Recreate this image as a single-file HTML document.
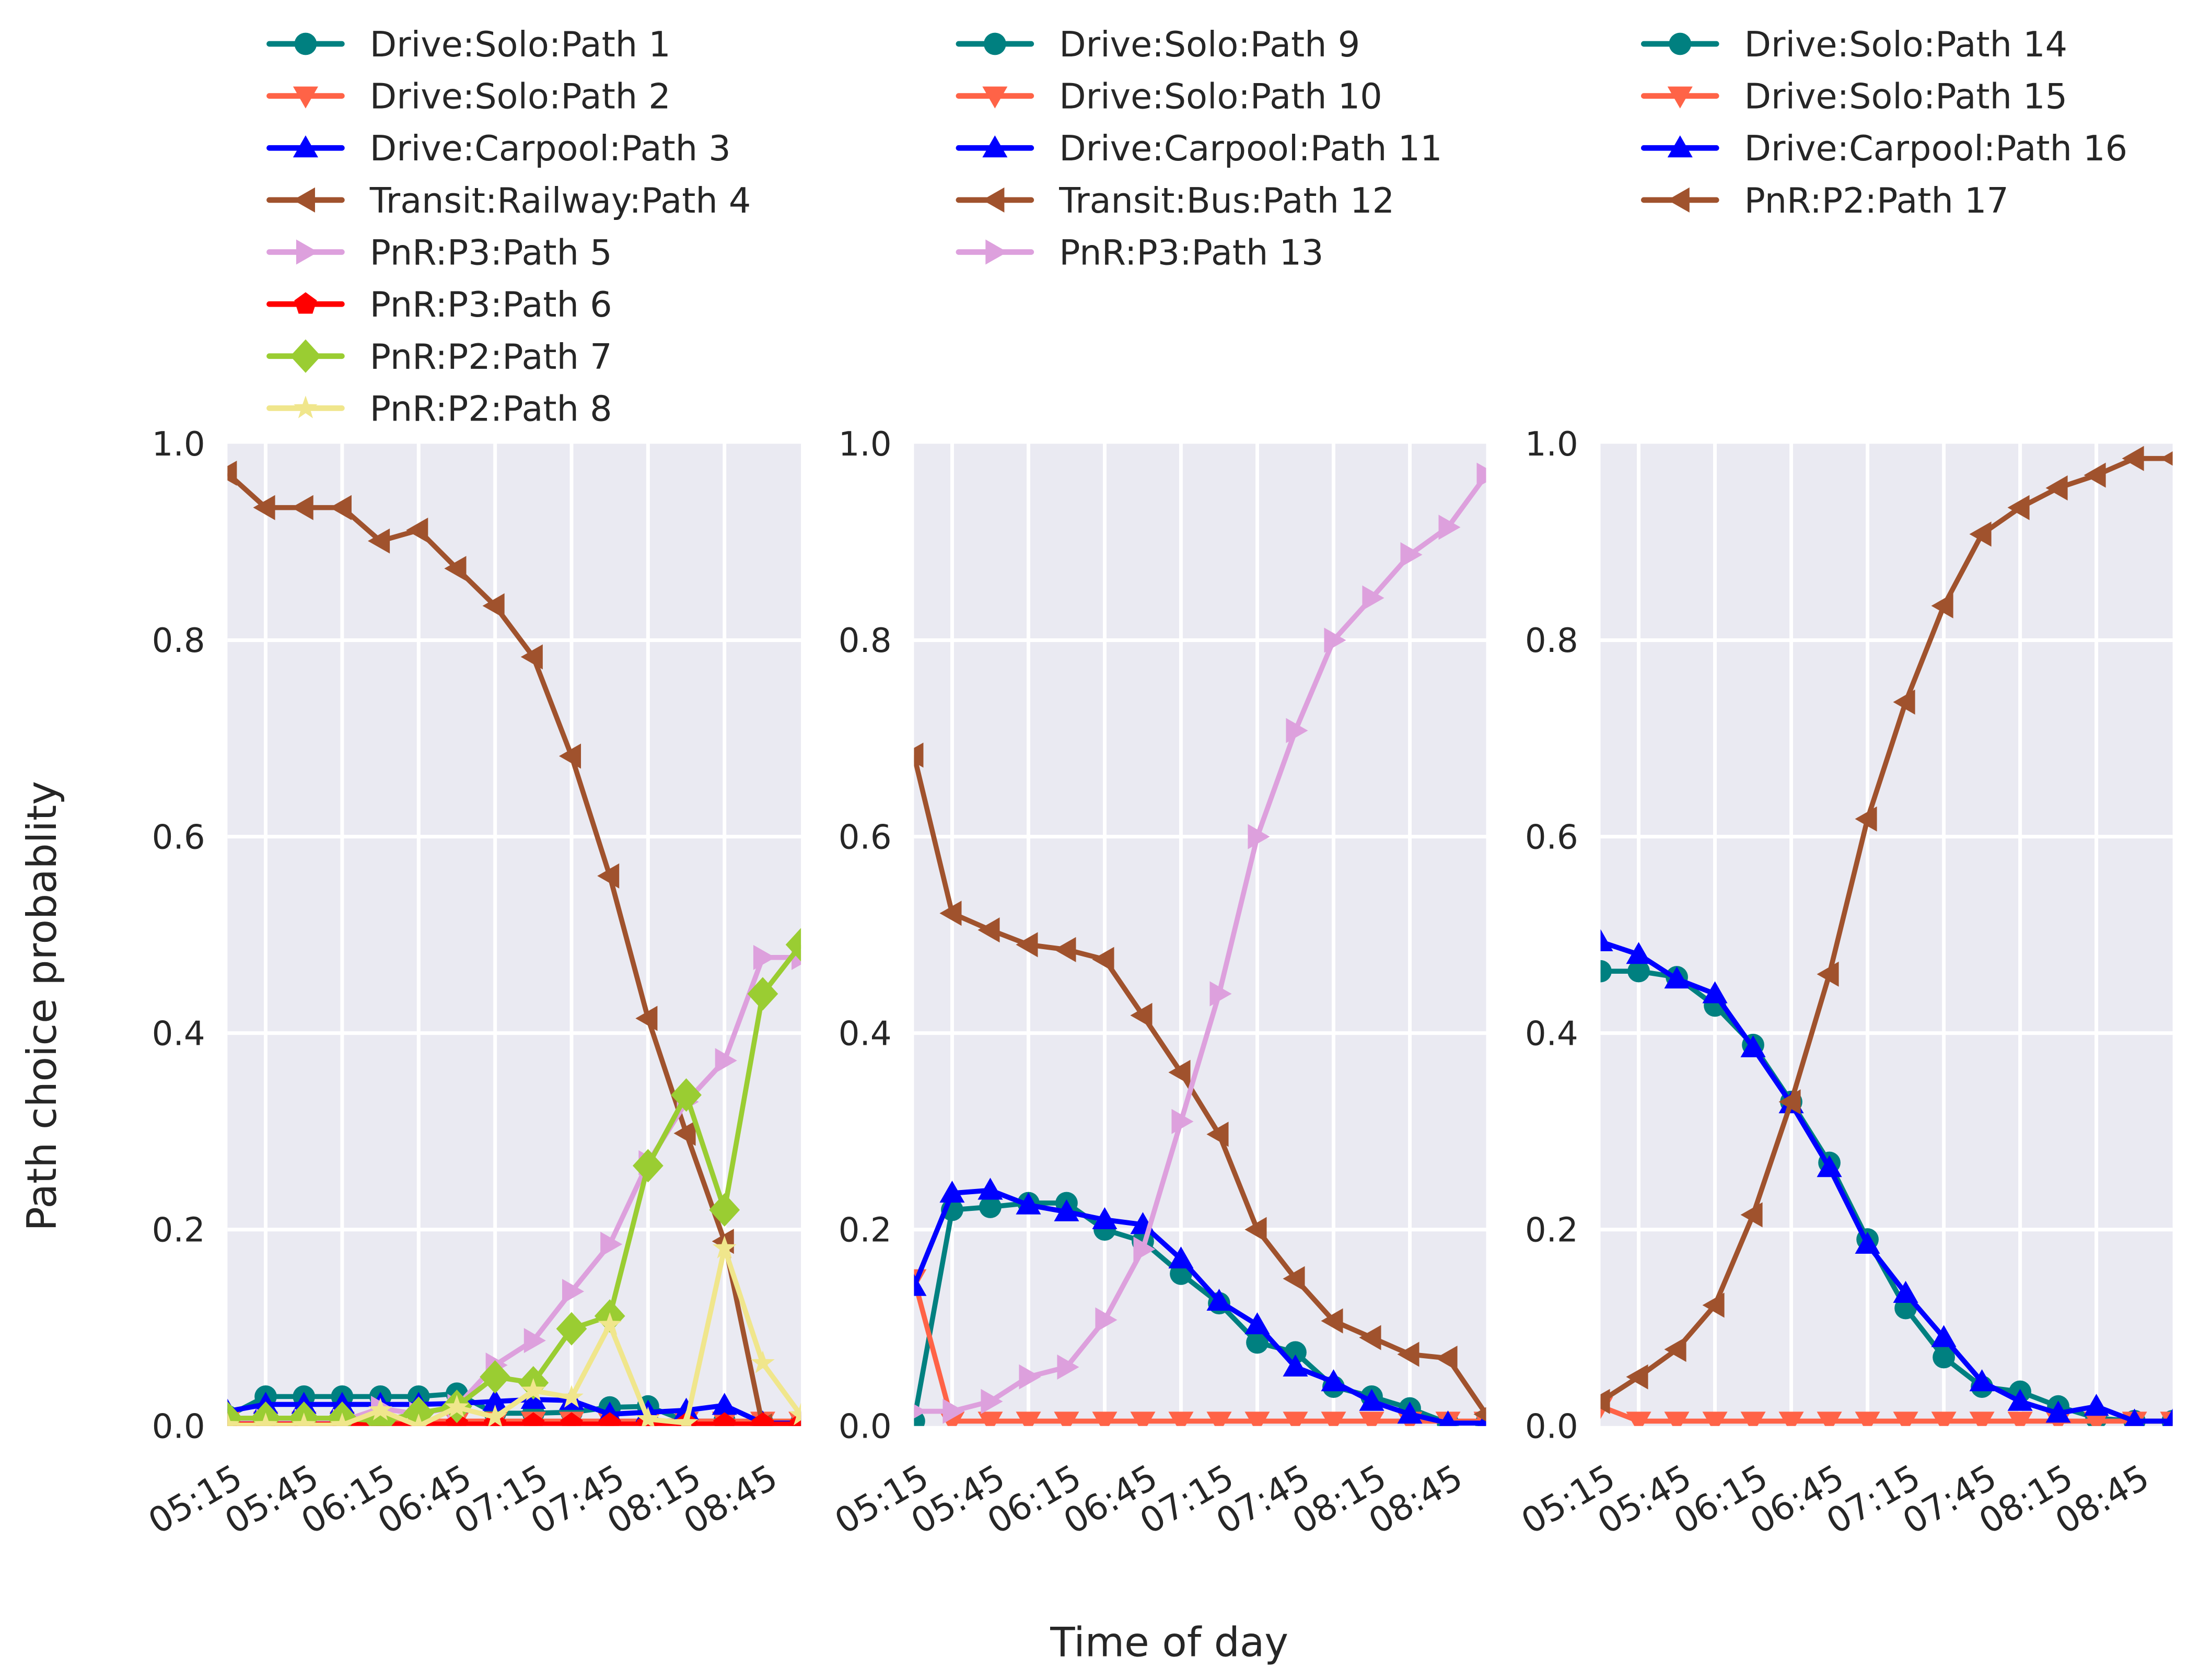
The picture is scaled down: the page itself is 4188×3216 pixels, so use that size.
<!DOCTYPE html>
<html><head><meta charset="utf-8"><style>
html,body{margin:0;padding:0;background:#fff;}
svg{display:block;}
text{font-family:"DejaVu Sans","Liberation Sans",sans-serif;fill:#262626;}
</style></head><body>
<svg id="chart" xmlns="http://www.w3.org/2000/svg" width="4188" height="3216" viewBox="0 0 1568 1204"></svg>
<script>
// ---------- data ----------
const timeTicks = ["05:15","05:45","06:15","06:45","07:15","07:45","08:15","08:45"];
const tickIndex = [1,3,5,7,9,11,13,15];
const yTicks = [0.0,0.2,0.4,0.6,0.8,1.0];
const yTickLabels = ["0.0","0.2","0.4","0.6","0.8","1.0"];

const path1  = [0.01,0.03,0.03,0.03,0.03,0.03,0.033,0.013,0.013,0.014,0.019,0.02,0.005,0.005,0.003,0.003];
const path2  = [0.005,0.005,0.005,0.005,0.005,0.005,0.005,0.005,0.005,0.005,0.005,0.005,0.005,0.005,0.005,0.005];
const path3  = [0.015,0.022,0.022,0.022,0.022,0.022,0.023,0.025,0.027,0.026,0.012,0.014,0.016,0.021,0.003,0.003];
const path4  = [0.97,0.935,0.935,0.935,0.901,0.912,0.873,0.835,0.783,0.682,0.56,0.415,0.298,0.188,0.0,0.0];
const path5  = [0.005,0.005,0.005,0.005,0.018,0.012,0.02,0.062,0.087,0.137,0.185,0.268,0.33,0.372,0.477,0.477];
const path6  = [0.002,0.002,0.002,0.002,0.002,0.002,0.002,0.002,0.002,0.002,0.002,0.002,0.002,0.002,0.002,0.002];
const path7  = [0.008,0.008,0.008,0.008,0.005,0.013,0.02,0.05,0.044,0.099,0.112,0.265,0.337,0.22,0.44,0.49];
const path8  = [0.001,0.001,0.001,0.001,0.016,0.0,0.019,0.009,0.036,0.029,0.103,0.007,0.003,0.181,0.064,0.011];

const path9  = [0.005,0.22,0.223,0.227,0.227,0.2,0.188,0.155,0.125,0.085,0.075,0.04,0.03,0.018,0.003,0.003];
const path10 = [0.15,0.005,0.005,0.005,0.005,0.005,0.005,0.005,0.005,0.005,0.005,0.005,0.005,0.005,0.005,0.005];
const path11 = [0.142,0.237,0.24,0.225,0.218,0.21,0.205,0.17,0.127,0.103,0.06,0.045,0.025,0.012,0.003,0.003];
const path12 = [0.683,0.522,0.505,0.49,0.485,0.475,0.418,0.36,0.297,0.2,0.15,0.107,0.09,0.073,0.069,0.012];
const path13 = [0.015,0.015,0.025,0.05,0.06,0.108,0.18,0.31,0.44,0.6,0.708,0.8,0.843,0.887,0.915,0.968];

const path14 = [0.463,0.463,0.457,0.428,0.388,0.33,0.268,0.19,0.12,0.07,0.04,0.035,0.02,0.008,0.005,0.005];
const path15 = [0.02,0.005,0.005,0.005,0.005,0.005,0.005,0.005,0.005,0.005,0.005,0.005,0.005,0.005,0.005,0.005];
const path16 = [0.493,0.48,0.455,0.44,0.385,0.328,0.263,0.185,0.135,0.09,0.045,0.025,0.013,0.02,0.005,0.005];
const path17 = [0.025,0.05,0.078,0.123,0.215,0.33,0.46,0.618,0.737,0.835,0.908,0.935,0.955,0.968,0.985,0.985];

const names1 = ["Drive:Solo:Path 1","Drive:Solo:Path 2","Drive:Carpool:Path 3","Transit:Railway:Path 4","PnR:P3:Path 5","PnR:P3:Path 6","PnR:P2:Path 7","PnR:P2:Path 8"];
const names2 = ["Drive:Solo:Path 9","Drive:Solo:Path 10","Drive:Carpool:Path 11","Transit:Bus:Path 12","PnR:P3:Path 13"];
const names3 = ["Drive:Solo:Path 14","Drive:Solo:Path 15","Drive:Carpool:Path 16","PnR:P2:Path 17"];

// ---------- styles ----------
const STY = [
 {c:"#008080",m:"circle"},{c:"#ff6347",m:"down"},{c:"#0000ff",m:"up"},{c:"#a0522d",m:"left"},
 {c:"#dda0dd",m:"right"},{c:"#ff0000",m:"pent"},{c:"#9acd32",m:"diamond"},{c:"#f0e68c",m:"star"}
];
const panels = [
 {x0:163,x1:574,series:[path1,path2,path3,path4,path5,path6,path7,path8],names:names1,styles:[0,1,2,3,4,5,6,7],lx:193},
 {x0:655,x1:1065,series:[path9,path10,path11,path12,path13],names:names2,styles:[0,1,2,3,4],lx:687},
 {x0:1147,x1:1557,series:[path14,path15,path16,path17],names:names3,styles:[0,1,2,3],lx:1178}
];
const Y0=1022, Y1=318, NPTS=16;
const svg=document.getElementById('chart');
const NS="http://www.w3.org/2000/svg";
function mk(tag,attrs,parent){const e=document.createElementNS(NS,tag);for(const k in attrs)e.setAttribute(k,attrs[k]);(parent||svg).appendChild(e);return e;}
function yScale(v){return Y0-v*(Y0-Y1);}

function markerPath(type,cx,cy){
  const s=9;
  switch(type){
    case "down": return `M${cx-s},${cy-s*0.75}L${cx+s},${cy-s*0.75}L${cx},${cy+s}Z`;
    case "up": return `M${cx-s},${cy+s*0.75}L${cx+s},${cy+s*0.75}L${cx},${cy-s}Z`;
    case "left": return `M${cx+s*0.75},${cy-s}L${cx+s*0.75},${cy+s}L${cx-s},${cy}Z`;
    case "right": return `M${cx-s*0.75},${cy-s}L${cx-s*0.75},${cy+s}L${cx+s},${cy}Z`;
    case "diamond": return `M${cx},${cy-12}L${cx+11},${cy}L${cx},${cy+12}L${cx-11},${cy}Z`;
    case "pent": {let d="";for(let k=0;k<5;k++){const a=-Math.PI/2+k*2*Math.PI/5;d+=(k?"L":"M")+(cx+8.5*Math.cos(a)).toFixed(2)+","+(cy+8.5*Math.sin(a)).toFixed(2);}return d+"Z";}
    case "star": {let d="";for(let k=0;k<10;k++){const a=-Math.PI/2+k*Math.PI/5;const r=k%2?3.6:9;d+=(k?"L":"M")+(cx+r*Math.cos(a)).toFixed(2)+","+(cy+r*Math.sin(a)).toFixed(2);}return d+"Z";}
  }
}
function drawMarker(g,type,color,cx,cy){
  let e;
  if(type==="circle") e=mk('circle',{cx:cx,cy:cy,r:8,fill:color},g);
  else e=mk('path',{d:markerPath(type,cx,cy),fill:color},g);
  return e;
}

// ---------- panels ----------
panels.forEach((p,pi)=>{
  const xScale=i=>p.x0+i*(p.x1-p.x0)/(NPTS-1);
  const pg=mk('g',{});
  
  
  const bg=mk('rect',{x:p.x0,y:Y1,width:p.x1-p.x0,height:Y0-Y1,fill:"#eaeaf2"},pg);
  
  
  const cp=mk('clipPath',{id:'clip'+pi},pg);
  mk('rect',{x:p.x0,y:Y1,width:p.x1-p.x0,height:Y0-Y1},cp);
  // grid
  yTicks.forEach((v,k)=>{
    if(v>0&&v<1){const l=mk('line',{x1:p.x0,x2:p.x1,y1:yScale(v),y2:yScale(v),stroke:"#fff","stroke-width":2.6},pg);
    
    }
    const t=mk('text',{x:p.x0-16,y:yScale(v)+8.5,'text-anchor':'end','font-size':24},pg);
    t.textContent=yTickLabels[k];
    
    
  });
  tickIndex.forEach((ti,k)=>{
    const x=xScale(ti);
    if(ti<NPTS-1){const l=mk('line',{x1:x,x2:x,y1:Y1,y2:Y0,stroke:"#fff","stroke-width":2.6},pg);
    
    }
    const ax=x-15, ay=1064;
    const t=mk('text',{x:ax,y:ay,'text-anchor':'end','font-size':25,transform:`rotate(-30 ${ax} ${ay})`},pg);
    t.textContent=timeTicks[k];
    
    
  });
  // series
  const sg=mk('g',{'clip-path':`url(#clip${pi})`},pg);
  p.series.forEach((arr,si)=>{
    const st=STY[p.styles[si]];
    const g=mk('g',{},sg);
    
    
    const pts=arr.map((v,i)=>xScale(i).toFixed(2)+","+yScale(v).toFixed(2)).join(" ");
    const pl=mk('polyline',{points:pts,fill:"none",stroke:st.c,"stroke-width":3.6,"stroke-linejoin":"round"},g);
    
    
    arr.forEach((v,i)=>{
      const m=drawMarker(g,st.m,st.c,xScale(i),yScale(v));
      
      
    });
  });
  // legend
  p.names.forEach((nm,k)=>{
    const st=STY[p.styles[k]];
    const cy=31.4+k*37.3;
    const lg=mk('g',{},svg);
    
    
    mk('line',{x1:p.lx,x2:p.lx+52,y1:cy,y2:cy,stroke:st.c,"stroke-width":4,"stroke-linecap":"round"},lg);
    drawMarker(lg,st.m,st.c,p.lx+26,cy);
    const t=mk('text',{x:p.lx+72,y:cy+9,'font-size':25},lg);
    t.textContent=nm;
  });
});

const yl=mk('text',{x:0,y:0,'font-size':29,'text-anchor':'middle',transform:'translate(40 721) rotate(-90)'});
yl.textContent="Path choice probablity";


const xl=mk('text',{x:838,y:1187,'font-size':29,'text-anchor':'middle'});
xl.textContent="Time of day";


</script>
</body></html>
